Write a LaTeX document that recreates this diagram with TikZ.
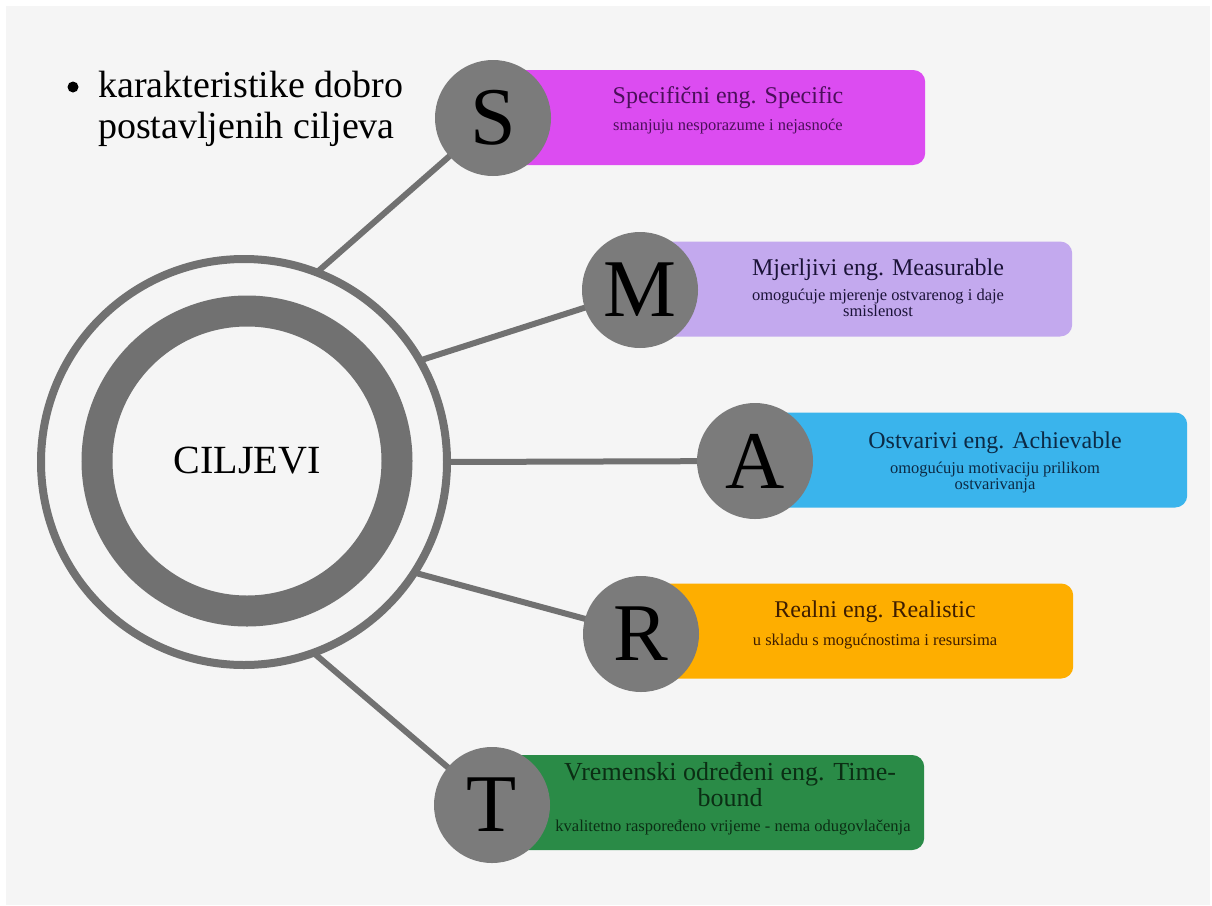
\documentclass[tikz,border=0pt]{standalone}
\usepackage{fontspec}
\setmainfont{Liberation Serif}
\pgfdeclarelayer{bg}
\pgfdeclarelayer{back}
\pgfsetlayers{bg,back,main}
\definecolor{bgc}{HTML}{F5F5F5}
\definecolor{ringc}{HTML}{717171}
\definecolor{circc}{HTML}{7B7B7B}
\definecolor{sfill}{HTML}{DC4CF1}
\definecolor{mfill}{HTML}{C3A9EE}
\definecolor{afill}{HTML}{3AB4EC}
\definecolor{rfill}{HTML}{FEAE00}
\definecolor{tfill}{HTML}{2A8B47}
\definecolor{stxt}{HTML}{4B0F5A}
\definecolor{mtxt}{HTML}{1B1338}
\definecolor{atxt}{HTML}{0C2A45}
\definecolor{rtxt}{HTML}{3F1E00}
\definecolor{ttxt}{HTML}{0B2E14}
\begin{document}
\begin{tikzpicture}[x=1pt,y=-1pt,
  letter/.style={circle, fill=circc, minimum size=116pt, inner sep=0pt,
    font=\fontsize{82}{82}\selectfont, text=black},
  boxshape/.style={rectangle, rounded corners=12pt, minimum width=432pt,
    minimum height=95pt, inner sep=0pt, anchor=west},
  ttl/.style={font=\fontsize{24}{27}\selectfont, align=center, inner sep=0pt},
  sub/.style={font=\fontsize{16.5}{16}\selectfont, align=center, inner sep=0pt},
  conn/.style={draw=ringc, line width=6pt}]
\useasboundingbox (0,0) rectangle (1212,905);
\begin{pgfonlayer}{bg}
  \fill[white] (0,0) rectangle (1212,905);
  \fill[bgc] (6,6) rectangle (1210,905);
\end{pgfonlayer}

% central rings
\node[circle, draw=ringc, line width=8pt, minimum size=406pt, inner sep=0pt, outer sep=0pt] (ring) at (244,462) {};
\node[circle, draw=ringc, line width=31pt, minimum size=300pt, inner sep=0pt,
  font=\fontsize{40}{40}\selectfont] (core) at (247,461) {CILJEVI};

% bullet text
\fill[black] (73,87) circle (5.5pt);
\node[anchor=base west, align=left, inner sep=0pt, font=\fontsize{38}{41}\selectfont] (intro) at (98,138)
  {karakteristike dobro\\postavljenih ciljeva};

% boxes
\node[boxshape, fill=sfill] (Sbox) at (493,117.5) {};
\node[boxshape, fill=mfill] (Mbox) at (640,289) {};
\node[boxshape, fill=afill] (Abox) at (755,460) {};
\node[boxshape, fill=rfill] (Rbox) at (641,631) {};
\node[boxshape, fill=tfill] (Tbox) at (492,802.5) {};

% circles
\node[letter] (S) at (493,118) {S};
\node[letter] (M) at (640,290) {M};
\node[letter] (A) at (755,461) {A};
\node[letter] (R) at (641,634) {R};
\node[letter] (T) at (492,805) {T};

% texts
\node[ttl, text=stxt] (St) at (728,98) {Specifični eng. Specific};
\node[sub, text=stxt] (Ss) at (728,127) {smanjuju nesporazume i nejasnoće};

\node[ttl, text=mtxt] (Mt) at (878,270) {Mjerljivi eng. Measurable};
\node[sub, text=mtxt] (Ms) at (878,303) {omogućuje mjerenje ostvarenog i daje\\smislenost};

\node[ttl, text=atxt] (At) at (995,443) {Ostvarivi eng. Achievable};
\node[sub, text=atxt] (As) at (995,478) {omogućuju motivaciju prilikom\\ostvarivanja};

\node[ttl, text=rtxt] (Rt) at (875,612) {Realni eng. Realistic};
\node[sub, text=rtxt] (Rs) at (875,642) {u skladu s mogućnostima i resursima};

\node[ttl, text=ttxt, font=\fontsize{26}{26}\selectfont] (Tt) at (730,785) {Vremenski određeni eng. Time-\\bound};
\node[sub, text=ttxt] (Ts) at (733,828) {kvalitetno raspoređeno vrijeme - nema odugovlačenja};

% connectors
\begin{pgfonlayer}{back}
  \draw[conn] (ring.69) -- (S.center);
  \draw[conn] (ring.30) -- (M.center);
  \draw[conn] (ring.0) -- (A.center);
  \draw[conn] (ring.-33) -- (R.center);
  \draw[conn] (ring.-70) -- (T.center);
\end{pgfonlayer}
\end{tikzpicture}
\end{document}
